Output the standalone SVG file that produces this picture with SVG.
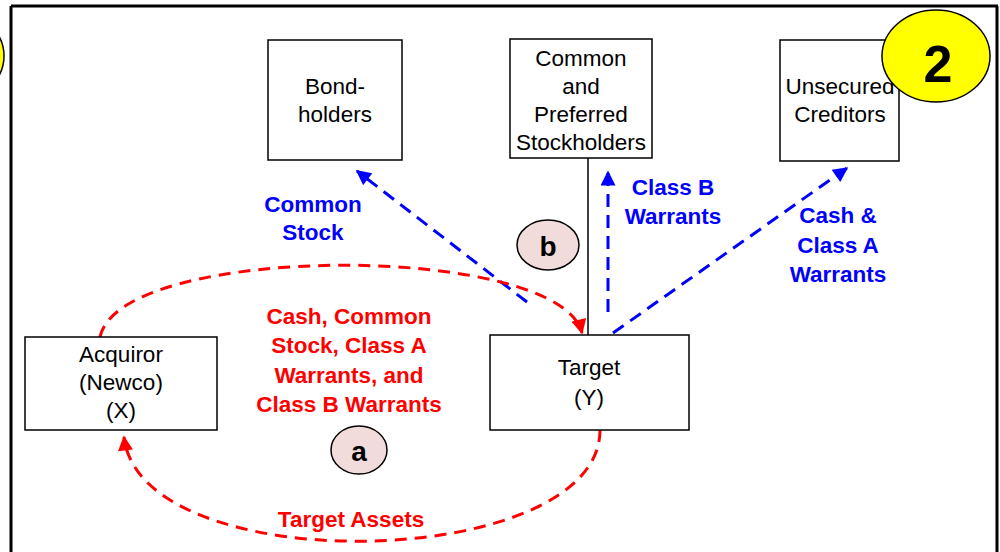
<svg xmlns="http://www.w3.org/2000/svg" width="1000" height="552" viewBox="0 0 1000 552">
  <style>
    .box { fill: #ffffff; stroke: #000000; stroke-width: 1.5; }
    .lbl { font-family: "Liberation Sans", Arial, sans-serif; font-size: 22.5px; fill: #000000; text-anchor: middle; }
    .blue { font-family: "Liberation Sans", Arial, sans-serif; font-size: 22.5px; font-weight: bold; fill: #0000ff; text-anchor: middle; }
    .red { font-family: "Liberation Sans", Arial, sans-serif; font-size: 22.5px; font-weight: bold; fill: #ff0000; text-anchor: middle; }
    .step { fill: #f2dcdb; stroke: #000000; stroke-width: 1.5; }
    .steptxt { font-family: "Liberation Sans", Arial, sans-serif; font-size: 28px; font-weight: bold; fill: #000000; text-anchor: middle; }
    .dashB { fill: none; stroke: #0000ff; stroke-width: 3; stroke-dasharray: 13 8; }
    .dashR { fill: none; stroke: #ff0000; stroke-width: 3; stroke-dasharray: 12 8; }
  </style>
  <defs>
    <marker id="arrowB" viewBox="0 0 10 10" refX="9" refY="5" markerWidth="5.5" markerHeight="5" markerUnits="strokeWidth" orient="auto">
      <path d="M0,0 L10,5 L0,10 z" fill="#0000ff"/>
    </marker>
    <marker id="arrowR" viewBox="0 0 10 10" refX="9" refY="5" markerWidth="5.5" markerHeight="5" markerUnits="strokeWidth" orient="auto">
      <path d="M0,0 L10,5 L0,10 z" fill="#ff0000"/>
    </marker>
  </defs>

  <rect x="0" y="0" width="1000" height="552" fill="#ffffff"/>

  <!-- page frame -->
  <g id="frame" stroke="#000000" stroke-width="3" fill="none">
    <line x1="11" y1="6" x2="998" y2="6"/>
    <line x1="11" y1="6" x2="11" y2="552"/>
    <line x1="997" y1="6" x2="997" y2="552"/>
  </g>

  <!-- neighbouring step badge, mostly off the page -->
  <ellipse cx="-50" cy="56" rx="54" ry="46" fill="#ffff00" stroke="#000000" stroke-width="1.5"/>

  <!-- connectors -->
  <g id="connectors">
    <line x1="588" y1="158" x2="588" y2="335" stroke="#000000" stroke-width="1.5"/>
    <path class="dashB" d="M527,302 L357,171" marker-end="url(#arrowB)"/>
    <path class="dashB" d="M608,312 L608,172" marker-end="url(#arrowB)"/>
    <path class="dashB" d="M613,333 L847,168" marker-end="url(#arrowB)"/>
    <path class="dashR" d="M100,337 C120,242 560,242 582,333" marker-end="url(#arrowR)"/>
    <path class="dashR" d="M600,430 C600,572 140,582 124,437" marker-end="url(#arrowR)"/>
  </g>

  <g id="bondholders">
    <rect class="box" x="268" y="40" width="134" height="120"/>
    <text class="lbl" x="335" y="94">Bond-</text>
    <text class="lbl" x="335" y="122">holders</text>
  </g>

  <g id="stockholders">
    <rect class="box" x="510" y="39" width="142" height="119"/>
    <text class="lbl" x="581" y="66">Common</text>
    <text class="lbl" x="581" y="94">and</text>
    <text class="lbl" x="581" y="122">Preferred</text>
    <text class="lbl" x="581" y="150">Stockholders</text>
  </g>

  <g id="creditors">
    <rect class="box" x="780" y="40" width="119" height="121"/>
    <text class="lbl" x="840" y="94">Unsecured</text>
    <text class="lbl" x="840" y="122">Creditors</text>
  </g>

  <g id="acquiror">
    <rect class="box" x="25" y="337" width="192" height="93"/>
    <text class="lbl" x="121" y="362">Acquiror</text>
    <text class="lbl" x="121" y="390">(Newco)</text>
    <text class="lbl" x="121" y="418">(X)</text>
  </g>

  <g id="target">
    <rect class="box" x="490" y="335" width="199" height="95"/>
    <text class="lbl" x="589" y="375">Target</text>
    <text class="lbl" x="589" y="405">(Y)</text>
  </g>

  <!-- flow labels -->
  <g id="labels">
    <text class="blue" x="313" y="212">Common</text>
    <text class="blue" x="313" y="240">Stock</text>
    <text class="blue" x="673" y="195">Class B</text>
    <text class="blue" x="673" y="224">Warrants</text>
    <text class="blue" x="838" y="223">Cash &amp;</text>
    <text class="blue" x="838" y="253">Class A</text>
    <text class="blue" x="838" y="282">Warrants</text>
    <text class="red" x="349" y="324">Cash, Common</text>
    <text class="red" x="349" y="353">Stock, Class A</text>
    <text class="red" x="349" y="383">Warrants, and</text>
    <text class="red" x="349" y="412">Class B Warrants</text>
    <text class="red" x="351" y="527">Target Assets</text>
  </g>

  <g id="step-a">
    <ellipse class="step" cx="359" cy="450" rx="28" ry="24"/>
    <text class="steptxt" x="359" y="461">a</text>
  </g>

  <g id="step-b">
    <ellipse class="step" cx="548" cy="245" rx="31" ry="25"/>
    <text class="steptxt" x="548" y="256">b</text>
  </g>

  <g id="badge-2">
    <ellipse cx="936" cy="56" rx="54" ry="46" fill="#ffff00" stroke="#000000" stroke-width="1.5"/>
    <text x="938" y="82" font-family="Liberation Sans, Arial, sans-serif" font-size="52" font-weight="bold" text-anchor="middle" fill="#000000">2</text>
  </g>
</svg>
